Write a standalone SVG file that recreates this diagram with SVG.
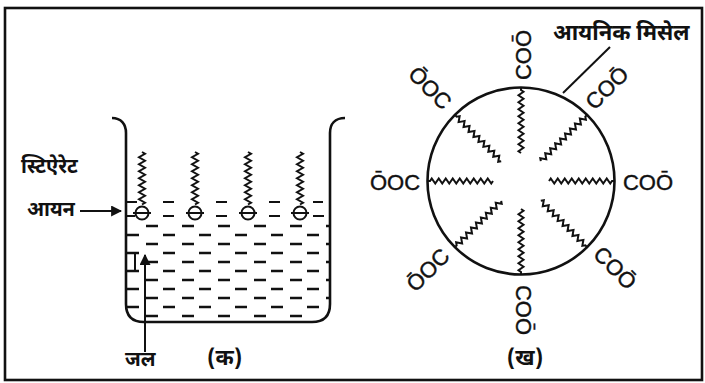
<svg xmlns="http://www.w3.org/2000/svg" xmlns:xlink="http://www.w3.org/1999/xlink" width="705" height="383" viewBox="0 0 705 383">
  <style>
    .ln { fill: none; stroke: #111; stroke-width: 2; }
    .thick { fill: none; stroke: #111; stroke-width: 2.6; }
    .chain { fill: none; stroke: #111; stroke-width: 2; stroke-linejoin: miter; }
    .dashA { fill: none; stroke: #111; stroke-width: 2.4; stroke-dasharray: 12 24; }
    .dashB { fill: none; stroke: #111; stroke-width: 2.4; stroke-dasharray: 12 24; }
    .hi { font-family: "Noto Sans Devanagari", "Lohit Devanagari", "Noto Sans", sans-serif; font-size: 20px; font-weight: bold; fill: #111; }
    .chem { font-family: "Liberation Sans", Arial, sans-serif; font-size: 22px; fill: #111; text-anchor: middle; dominant-baseline: central; stroke: #111; stroke-width: 0.4; }
  </style>
  <defs>
    <!-- vertical hydrocarbon tail, 52.5 long, pointing down from its origin -->
    <path id="bchain" class="chain" d="M0,0 l3,1.75 l-6,3.5 l6,3.5 l-6,3.5 l6,3.5 l-6,3.5 l6,3.5 l-6,3.5 l6,3.5 l-6,3.5 l6,3.5 l-6,3.5 l6,3.5 l-6,3.5 l6,3.5 l-3,1.75"/>
    <!-- radial tail for the micelle, 65 long along +x -->
    <path id="mchain" class="chain" d="M0,0 l1.75,-2.5 l3.5,5 l3.5,-5 l3.5,5 l3.5,-5 l3.5,5 l3.5,-5 l3.5,5 l3.5,-5 l3.5,5 l3.5,-5 l3.5,5 l3.5,-5 l3.5,5 l3.5,-5 l3.5,5 l3.5,-5 l3.5,5 l1.75,-2.5 l2,0"/>
    <marker id="arrow" viewBox="0 0 10 10" refX="9" refY="5" markerWidth="11" markerHeight="11" markerUnits="userSpaceOnUse" orient="auto">
      <path d="M0,0 L10,5 L0,10 Z" fill="#111"/>
    </marker>
  </defs>

  <rect x="0" y="0" width="705" height="383" fill="#fff"/>
  <!-- outer frame -->
  <rect x="5" y="8" width="697" height="372" class="thick"/>

  <!-- (क) beaker with stearate ions at the water surface -->
  <g id="beaker">
    <path class="thick" d="M112,118 C121,118 126,124 126,133 L126,304 Q126,322 144,322 L312,322 Q330,322 330,304 L330,133 C330,124 335,118 345,118"/>
  </g>

  <g id="water">
    <!-- surface layer -->
    <path class="ln" d="M126,202 H137 M163,202 H174 M216,202 H227 M269,202 H280 M313,202 H323"/>
    <path class="ln" d="M126,216 H135 M163,216 H174 M216,216 H227 M269,216 H280 M313,216 H324"/>
    <!-- bulk water -->
    <line class="dashB" x1="146" y1="226" x2="330" y2="226"/>
    <line class="dashA" x1="127" y1="235" x2="330" y2="235"/>
    <line class="dashB" x1="146" y1="244" x2="330" y2="244"/>
    <line class="dashA" x1="127" y1="253" x2="330" y2="253"/>
    <line class="dashB" x1="146" y1="262" x2="330" y2="262"/>
    <line class="dashA" x1="127" y1="271" x2="330" y2="271"/>
    <line class="dashB" x1="146" y1="280" x2="330" y2="280"/>
    <line class="dashA" x1="127" y1="289" x2="330" y2="289"/>
    <line class="dashB" x1="146" y1="298" x2="330" y2="298"/>
    <line class="dashA" x1="127" y1="307" x2="330" y2="307"/>
    <line class="dashB" x1="146" y1="316" x2="322" y2="316"/>
    <path class="ln" d="M135,253 V271"/>
  </g>

  <g id="stearate-ions">
    <g id="ion-1">
      <use xlink:href="#bchain" x="142" y="152"/>
      <circle cx="142" cy="213" r="6.5" class="ln"/>
      <path class="ln" d="M133,213 H151"/>
    </g>
    <g id="ion-2">
      <use xlink:href="#bchain" x="195" y="152"/>
      <circle cx="195" cy="213" r="6.5" class="ln"/>
      <path class="ln" d="M186,213 H204"/>
    </g>
    <g id="ion-3">
      <use xlink:href="#bchain" x="248" y="152"/>
      <circle cx="248" cy="213" r="6.5" class="ln"/>
      <path class="ln" d="M239,213 H257"/>
    </g>
    <g id="ion-4">
      <use xlink:href="#bchain" x="300" y="152"/>
      <circle cx="300" cy="213" r="6.5" class="ln"/>
      <path class="ln" d="M291,213 H309"/>
    </g>
  </g>

  <g id="connectors">
    <line class="ln" x1="80" y1="211" x2="121" y2="211" marker-end="url(#arrow)"/>
    <line class="ln" x1="145" y1="352" x2="145" y2="255" marker-end="url(#arrow)"/>
    <line class="ln" x1="610" y1="47" x2="563" y2="93"/>
  </g>

  <g id="labels-a">
    <text class="hi" x="21" y="173">स्टिऐरेट</text>
    <text class="hi" x="27" y="216">आयन</text>
    <text class="hi" x="125" y="366">जल</text>
    <text class="hi" x="207" y="365" style="font-size:22px">(क)</text>
  </g>

  <!-- (ख) ionic micelle -->
  <g id="micelle">
    <circle cx="521" cy="181" r="93.5" class="thick"/>
    <g transform="translate(521,181)">
      <use xlink:href="#mchain" transform="rotate(0) translate(28,0)"/>
      <use xlink:href="#mchain" transform="rotate(45) translate(28,0)"/>
      <use xlink:href="#mchain" transform="rotate(90) translate(28,0)"/>
      <use xlink:href="#mchain" transform="rotate(135) translate(28,0)"/>
      <use xlink:href="#mchain" transform="rotate(180) translate(28,0)"/>
      <use xlink:href="#mchain" transform="rotate(225) translate(28,0)"/>
      <use xlink:href="#mchain" transform="rotate(270) translate(28,0)"/>
      <use xlink:href="#mchain" transform="rotate(315) translate(28,0)"/>
    </g>
  </g>

  <g id="head-groups">
    <text class="chem" transform="translate(523,55) rotate(-90)">COŌ</text>
    <text class="chem" transform="translate(523,310) rotate(90)">COŌ</text>
    <text class="chem" transform="translate(395,182)">ŌOC</text>
    <text class="chem" transform="translate(648,182)">COŌ</text>
    <text class="chem" transform="translate(430,88) rotate(45)">ŌOC</text>
    <text class="chem" transform="translate(607,88) rotate(-45)">COŌ</text>
    <text class="chem" transform="translate(428,270) rotate(-45)">ŌOC</text>
    <text class="chem" transform="translate(615,268) rotate(45)">COŌ</text>
  </g>

  <g id="labels-b">
    <text class="hi" x="553" y="40" style="font-size:22px">आयनिक मिसेल</text>
    <text class="hi" x="525" y="365" text-anchor="middle" style="font-size:22px">(ख)</text>
  </g>
</svg>
